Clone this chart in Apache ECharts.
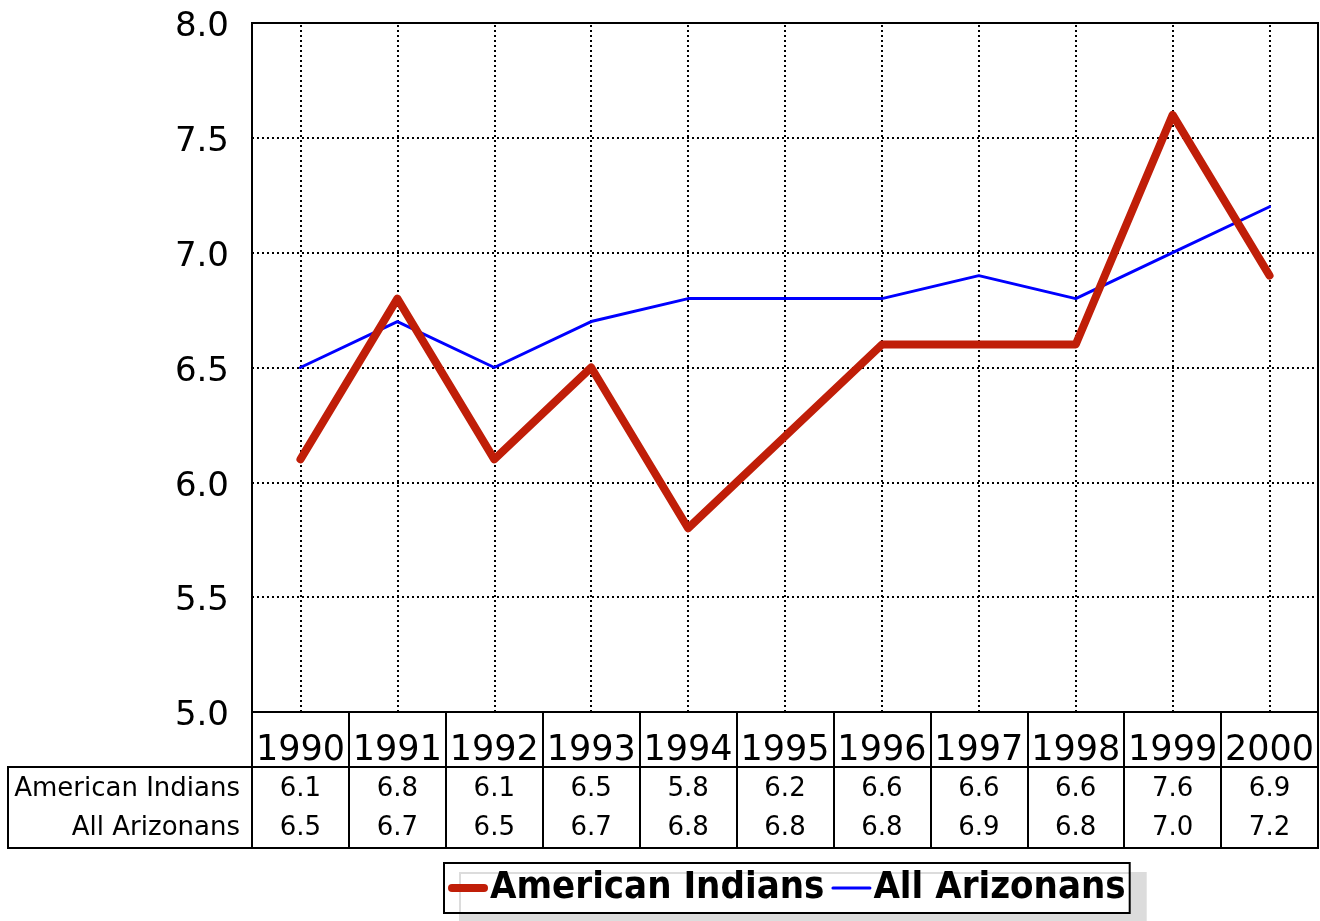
<!DOCTYPE html>
<html>
<head>
<meta charset="utf-8">
<style>
html,body{margin:0;padding:0;background:#fff;}
#chart{width:1320px;height:921px;}
</style>
<script src="https://cdn.jsdelivr.net/npm/echarts@6/dist/echarts.min.js"></script>
</head>
<body>
<div id="chart"></div>
<script>
var years = ['1990','1991','1992','1993','1994','1995','1996','1997','1998','1999','2000'];
var seriesNames = ['American Indians', 'All Arizonans'];
var americanIndians = [6.1, 6.8, 6.1, 6.5, 5.8, 6.2, 6.6, 6.6, 6.6, 7.6, 6.9];
var allArizonans = [6.5, 6.7, 6.5, 6.7, 6.8, 6.8, 6.8, 6.9, 6.8, 7.0, 7.2];
var yMin = 5.0, yMax = 8.0, yStep = 0.5;

var FONT = 'DejaVu Sans, Verdana, sans-serif';
var RED = '#c01e08', BLUE = '#0000ff';
var chart = echarts.init(document.getElementById('chart'), null, {renderer: 'canvas'});

var gridTop = 23, gridLeft = 252, gridRight = 2, gridBottom = 209;
var dotted = {color: '#000', width: 2, type: [2, 3]};

function rowAxis(values, margin) {
  return {
    type: 'category', gridIndex: 0, position: 'bottom', data: years,
    boundaryGap: true,
    axisLine: {show: false}, axisTick: {show: false}, splitLine: {show: false},
    axisLabel: {
      interval: 0, margin: margin, color: '#000', fontFamily: FONT, fontSize: 26,
      formatter: function (v, i) { return values[i].toFixed(1); }
    }
  };
}

var thickIcon = 'path://M4,0 H36 A4,4 0 0 1 36,8 H4 A4,4 0 0 1 4,0 Z';
var thinIcon = 'path://M1.5,0 H38.5 A1.5,1.5 0 0 1 38.5,3 H1.5 A1.5,1.5 0 0 1 1.5,0 Z';

var option = {
  animation: false,
  backgroundColor: '#fff',
  grid: {
    left: gridLeft, right: gridRight, top: gridTop, bottom: gridBottom,
    show: true, borderColor: '#000', borderWidth: 2, containLabel: false
  },
  xAxis: [
    {
      type: 'category', gridIndex: 0, position: 'bottom', data: years, boundaryGap: true,
      axisLine: {show: true, lineStyle: {color: '#000', width: 2}},
      axisTick: {show: true, interval: 0, length: 136, lineStyle: {color: '#000', width: 2}},
      splitLine: {show: false},
      axisLabel: {interval: 0, margin: 21, color: '#000', fontFamily: FONT, fontSize: 35}
    },
    rowAxis(americanIndians, 64),
    rowAxis(allArizonans, 103)
  ],
  yAxis: {
    type: 'value', min: yMin, max: yMax, interval: yStep,
    axisLine: {show: true, lineStyle: {color: '#000', width: 2}},
    axisTick: {show: false},
    splitLine: {show: true, lineStyle: dotted},
    axisLabel: {
      margin: 23, color: '#000', fontFamily: FONT, fontSize: 34,
      formatter: function (v) { return '{a|' + v.toFixed(1) + '}'; },
      rich: {a: {fontFamily: FONT, fontSize: 34, color: '#000', padding: [9, 0, 0, 0]}}
    }
  },
  legend: {
    data: [
      {name: seriesNames[0], icon: thickIcon, itemStyle: {color: RED}},
      {name: seriesNames[1], icon: thinIcon, itemStyle: {color: BLUE}}
    ],
    left: 444, top: 863,
    orient: 'horizontal',
    padding: [6, 4, 6, 4],
    itemGap: 7,
    itemWidth: 40, itemHeight: 20,
    backgroundColor: '#fff',
    borderColor: '#000', borderWidth: 2, borderRadius: 0,
    shadowColor: '#dcdcdc', shadowBlur: 0, shadowOffsetX: 16, shadowOffsetY: 10,
    textStyle: {color: '#000', fontFamily: 'DejaVu Sans Condensed, DejaVu Sans, sans-serif', fontWeight: 'bold', fontSize: 38, padding: [0, 0, 0, -3]}
  },
  series: [
    {
      name: seriesNames[1], type: 'line', data: allArizonans, xAxisIndex: 0,
      symbol: 'none', z: 3,
      lineStyle: {color: BLUE, width: 3, cap: 'round', join: 'round'},
      itemStyle: {color: BLUE},
      markLine: {
        silent: true, symbol: 'none', z: 1, animation: false,
        label: {show: false},
        lineStyle: dotted,
        emphasis: {disabled: true},
        data: years.map(function (y) { return {xAxis: y}; })
      }
    },
    {
      name: seriesNames[0], type: 'line', data: americanIndians, xAxisIndex: 0,
      symbol: 'none', z: 4,
      lineStyle: {color: RED, width: 8, cap: 'round', join: 'round'},
      itemStyle: {color: RED}
    }
  ],
  graphic: [
    {
      type: 'rect', silent: true, z: 10,
      shape: {x: 8, y: 767, width: 1310, height: 81},
      style: {fill: 'none', stroke: '#000', lineWidth: 2}
    },
    {
      type: 'text', silent: true, z: 10, x: 240, y: 789,
      style: {text: seriesNames[0], fill: '#000', font: '26px ' + FONT, align: 'right', verticalAlign: 'middle'}
    },
    {
      type: 'text', silent: true, z: 10, x: 240, y: 828,
      style: {text: seriesNames[1], fill: '#000', font: '26px ' + FONT, align: 'right', verticalAlign: 'middle'}
    }
  ]
};
chart.setOption(option);
</script>
</body>
</html>
